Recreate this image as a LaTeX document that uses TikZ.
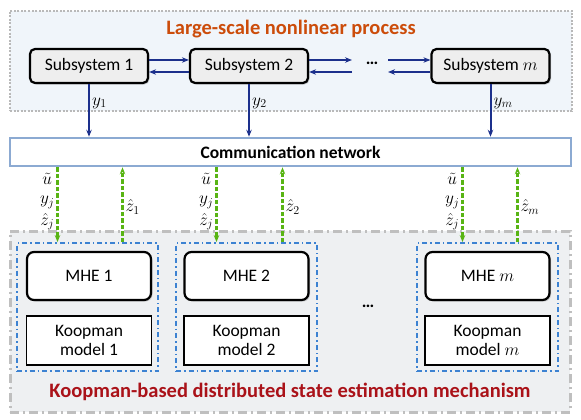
\documentclass[tikz,border=0pt]{standalone}
\usepackage{fontspec}
\setmainfont{Carlito}
\usetikzlibrary{arrows.meta,shadows,positioning}

\definecolor{procorange}{RGB}{204,76,10}
\definecolor{mechred}{RGB}{170,18,25}
\definecolor{flowblue}{RGB}{28,48,140}
\definecolor{infogreen}{RGB}{88,180,20}
\definecolor{boxblue}{RGB}{60,130,210}
\definecolor{commblue}{RGB}{140,170,210}
\definecolor{procfill}{RGB}{240,245,250}
\definecolor{mechfill}{RGB}{238,240,242}

\begin{document}
\begin{tikzpicture}[x=1pt,y=-1pt,
  font=\fontsize{17.5}{20}\selectfont,
  subsys/.style={draw,rounded corners=5pt,line width=2.2pt,fill=gray!13,
    minimum width=118pt,minimum height=34pt,
    drop shadow={shadow xshift=1.5pt,shadow yshift=-1.5pt,opacity=0.35}},
  mhe/.style={draw,rounded corners=7pt,line width=2.2pt,fill=white,
    minimum width=124pt,minimum height=48pt,
    drop shadow={shadow xshift=1.5pt,shadow yshift=-1.5pt,opacity=0.35}},
  koop/.style={draw,line width=1.9pt,fill=white,align=center,
    minimum width=125pt,minimum height=49pt,
    font=\fontsize{17.5}{19.5}\selectfont},
  estbox/.style={draw=boxblue,line width=1.8pt,
    dash pattern=on 5pt off 3pt on 1.5pt off 3pt,
    minimum width=141pt,minimum height=128pt},
  flow/.style={draw=flowblue,line width=2pt,-{Stealth[length=7pt,width=5.5pt]}},
  info/.style={draw=infogreen,line width=2.2pt,dash pattern=on 4.5pt off 2pt,
    -{Stealth[length=7pt,width=5.5pt]}},
  lab/.style={font=\fontsize{18}{18.5}\selectfont,inner sep=2pt},
  title/.style={font=\fontsize{20.5}{23}\selectfont\bfseries}]
\useasboundingbox (0,0) rectangle (581,420);

% frames
\node[draw=gray!55,line width=2.5pt,dash pattern=on 2pt off 1.5pt,fill=procfill,
  minimum width=562pt,minimum height=100pt] (proc) at (291,61) {};
\node[draw=gray!50,line width=3pt,dash pattern=on 9pt off 4pt on 2pt off 4pt,
  fill=mechfill,minimum width=560pt,minimum height=181pt] (mech) at (290,321.5) {};

\node[title,text=procorange] (proctitle) at (291,29) {Large-scale nonlinear process};
\node[title,text=mechred] (mechtitle) at (290,392) {Koopman-based distributed state estimation mechanism};

% subsystems
\node[subsys] (s1) at (89,66) {Subsystem 1};
\node[subsys] (s2) at (249,66) {Subsystem 2};
\node[subsys] (sm) at (490.5,66) {Subsystem $m$};
\node (sdots) at (372,63) {\textbf{\ldots}};
\coordinate (dl) at (352,66);
\coordinate (dr) at (388,66);

\draw[flow] ([yshift=6pt]s1.east) -- ([yshift=6pt]s2.west);
\draw[flow] ([yshift=-6pt]s2.west) -- ([yshift=-6pt]s1.east);
\draw[flow] ([yshift=6pt]s2.east) -- ([yshift=6pt]dl);
\draw[flow] ([yshift=-6pt]dl) -- ([yshift=-6pt]s2.east);
\draw[flow] ([yshift=6pt]dr) -- ([yshift=6pt]sm.west);
\draw[flow] ([yshift=-6pt]sm.west) -- ([yshift=-6pt]dr);

% network
\node[draw=commblue,line width=2.5pt,fill=white,minimum width=561pt,
  minimum height=28pt,font=\fontsize{17.5}{20}\selectfont\bfseries] (comm) at (290.5,152) {Communication network};

\draw[flow] (s1.south) -- (s1.south |- comm.north) node[lab,pos=0.36,right] {$y_1$};
\draw[flow] (s2.south) -- (s2.south |- comm.north) node[lab,pos=0.36,right] {$y_2$};
\draw[flow] (sm.south) -- (sm.south |- comm.north) node[lab,pos=0.36,right] {$y_m$};

% estimators
\node[estbox] (e1) at (87.5,307) {};
\node[estbox] (e2) at (246.5,307) {};
\node[estbox] (em) at (487.5,307) {};

\node[mhe] (mhe1) at (89,276) {MHE 1};
\node[mhe] (mhe2) at (246.5,276) {MHE 2};
\node[mhe] (mhem) at (487.5,276) {MHE $m$};
\node[koop,below=14pt of mhe1] (k1) {Koopman\\model 1};
\node[koop,below=14pt of mhe2] (k2) {Koopman\\model 2};
\node[koop,below=14pt of mhem] (km) {Koopman\\model $m$};
\node (edots) at (368,306) {\textbf{\ldots}};

% exchanged information
\draw[info] ([xshift=-30pt]e1.north |- comm.south) -- ([xshift=-30pt]e1.north)
  node[lab,pos=0.46,left,align=center] {$\tilde u$\\[1pt]$y_j$\\[3pt]$\hat z_j$};
\draw[info] ([xshift=35pt]e1.north) -- ([xshift=35pt]e1.north |- comm.south)
  node[lab,pos=0.47,right] {$\hat z_1$};
\draw[info] ([xshift=-30pt]e2.north |- comm.south) -- ([xshift=-30pt]e2.north)
  node[lab,pos=0.46,left,align=center] {$\tilde u$\\[1pt]$y_j$\\[3pt]$\hat z_j$};
\draw[info] ([xshift=36pt]e2.north) -- ([xshift=36pt]e2.north |- comm.south)
  node[lab,pos=0.47,right] {$\hat z_2$};
\draw[info] ([xshift=-25pt]em.north |- comm.south) -- ([xshift=-25pt]em.north)
  node[lab,pos=0.46,left,align=center] {$\tilde u$\\[1pt]$y_j$\\[3pt]$\hat z_j$};
\draw[info] ([xshift=30pt]em.north) -- ([xshift=30pt]em.north |- comm.south)
  node[lab,pos=0.47,right] {$\hat z_m$};
\end{tikzpicture}
\end{document}
